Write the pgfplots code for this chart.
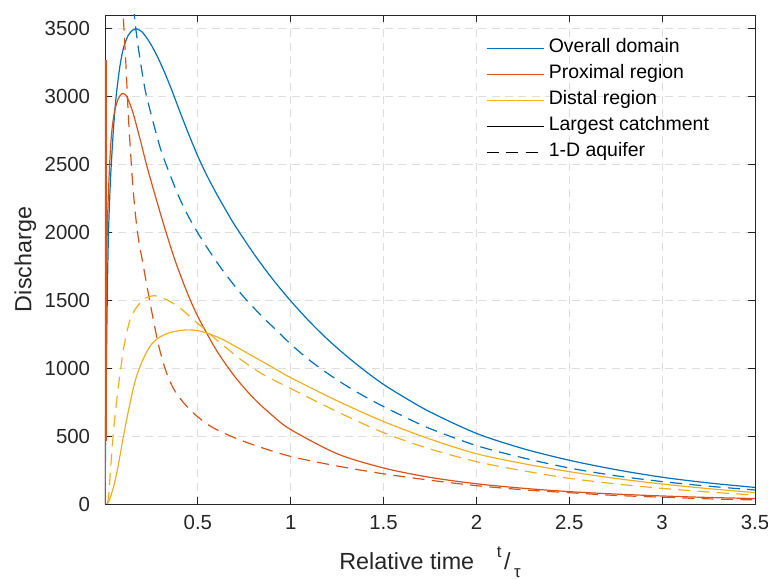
\documentclass[border=0pt]{standalone}
\usepackage{fontspec}
\setmainfont{Liberation Sans}
\usepackage{pgfplots}
\pgfplotsset{compat=1.18}
\definecolor{mblue}{rgb}{0,0.447,0.741}
\definecolor{morange}{rgb}{0.85,0.325,0.098}
\definecolor{myellow}{rgb}{0.929,0.694,0.125}
\definecolor{axgray}{rgb}{0.15,0.15,0.15}
\definecolor{gridgray}{rgb}{0.87,0.87,0.87}
\begin{document}
\begin{tikzpicture}
\begin{axis}[
  scale only axis, width=487.5pt, height=366.75pt,
  xmin=0, xmax=3.5, ymin=0, ymax=3600,
  xtick={0.5,1,1.5,2,2.5,3,3.5},
  ytick={0,500,1000,1500,2000,2500,3000,3500},
  /pgf/number format/1000 sep={},
  /pgf/number format/assume math mode=true,
  axis line style={axgray, line width=0.6pt},
  tick style={axgray, line width=0.6pt},
  major tick length=5pt,
  tick align=inside,
  grid=major,
  major grid style={gridgray, dash pattern=on 6pt off 4pt, line width=0.6pt},
  tick label style={font=\fontsize{15.3}{17}\selectfont, text=axgray},
  yticklabel style={inner sep=0pt, anchor=east, xshift=-11pt},
  xticklabel style={inner sep=0pt, anchor=base, yshift=-19pt},
  xlabel={Relative time\hspace{17pt}\raisebox{9pt}{\fontsize{12.5}{12}\selectfont t}\hspace{2pt}/\hspace{2.5pt}\raisebox{-6pt}{\fontsize{12.5}{12}\selectfont τ}},
  ylabel={Discharge},
  xlabel style={at={(axis description cs:0.5,-0.133)}, anchor=base, font=\fontsize{17.5}{19}\selectfont, text=axgray, inner sep=0pt},
  ylabel style={at={(axis description cs:-0.1131,0.5)}, anchor=base, font=\fontsize{17.5}{19}\selectfont, text=axgray, inner sep=0pt},
  legend style={draw=none, fill=none, at={(0.580,0.964)}, anchor=north west,
    font=\fontsize{14.6}{16}\selectfont, nodes={inner sep=0pt, text height=13pt, text depth=6.5pt},
    column sep=3pt},
  legend cell align=left,
  legend image code/.code={\draw[#1, line width=0.9pt] (0pt,0pt) -- (43pt,0pt);},
  every axis plot/.append style={line width=0.9pt},
]
\coordinate (bl) at (rel axis cs:0,0);
\coordinate (tr) at (rel axis cs:1,1);

% Overall domain (solid)
\addplot[mblue, smooth] coordinates {
(0,0) (0.005,700) (0.01,1300) (0.015,1750) (0.02,2050) (0.03,2400) (0.045,2750) (0.06,3000) (0.08,3220) (0.1,3360) (0.125,3450) (0.15,3490) (0.17,3497) (0.2,3475) (0.24,3400) (0.28,3300) (0.32,3180) (0.36,3045) (0.4,2900) (0.45,2725) (0.5,2560) (0.55,2415) (0.6,2285) (0.65,2165) (0.7,2050) (0.8,1845) (0.9,1660) (1.0,1495) (1.1,1345) (1.2,1210) (1.3,1090) (1.4,980) (1.5,880) (1.6,795) (1.75,678) (2.0,520) (2.25,408) (2.5,322) (2.75,253) (3.0,197) (3.25,155) (3.5,122)
};
\addlegendentry{Overall domain}

% Proximal region (solid)
\addplot[morange, smooth] coordinates {
(0,0) (0.004,800) (0.009,1750) (0.015,2150) (0.025,2500) (0.035,2720) (0.05,2880) (0.07,2980) (0.09,3020) (0.1,3021) (0.115,3005) (0.13,2960) (0.153,2870) (0.19,2680) (0.225,2490) (0.26,2320) (0.3,2131) (0.33,1995) (0.378,1790) (0.44,1565) (0.5,1380) (0.6,1132) (0.7,936) (0.8,779) (0.9,653) (1.0,548) (1.25,370) (1.5,265) (1.75,196) (2.0,149) (2.25,116) (2.5,91) (2.75,73) (3.0,59) (3.25,48) (3.5,40)
};
\addlegendentry{Proximal region}

% Distal region (solid)
\addplot[myellow, smooth] coordinates {
(0.005,0) (0.015,5) (0.027,42) (0.045,120) (0.063,226) (0.08,350) (0.099,496) (0.117,625) (0.135,742) (0.152,850) (0.17,940) (0.2,1050) (0.225,1120) (0.25,1175) (0.28,1215) (0.31,1240) (0.35,1262) (0.4,1276) (0.45,1282) (0.5,1276) (0.55,1258) (0.6,1232) (0.65,1200) (0.7,1162) (0.8,1085) (0.9,1008) (1.0,930) (1.25,760) (1.5,607) (1.75,478) (2.0,370) (2.25,298) (2.5,238) (2.75,188) (3.0,147) (3.25,113) (3.5,84)
};
\addlegendentry{Distal region}

\addlegendimage{black}
\addlegendentry{Largest catchment}
\addlegendimage{black, dash pattern=on 9pt off 5.5pt}
\addlegendentry{1-D aquifer}

% vertical segment at t = 0
\addplot[morange, line width=2.4pt, forget plot] coordinates {(0,464) (0,3272)};

% 1-D aquifer (dashed)
\addplot[mblue, smooth, dash pattern=on 9pt off 5.5pt, forget plot] coordinates {
(0.148,3800) (0.158,3600) (0.171,3444) (0.189,3272) (0.216,3050) (0.25,2860) (0.3,2610) (0.35,2425) (0.4,2255) (0.45,2115) (0.5,1995) (0.58,1825) (0.65,1690) (0.75,1520) (0.85,1375) (0.917,1287) (1.0,1177) (1.1,1060) (1.2,960) (1.3,870) (1.4,790) (1.5,717) (1.6,650) (1.75,555) (2.0,430) (2.25,340) (2.5,265) (2.75,208) (3.0,165) (3.25,131) (3.5,103)
};
\addplot[morange, smooth, dash pattern=on 9pt off 5.5pt, forget plot] coordinates {
(0.094,4000) (0.099,3600) (0.106,3400) (0.113,3223) (0.126,2854) (0.139,2560) (0.153,2290) (0.175,2000) (0.207,1749) (0.243,1479) (0.288,1172) (0.329,975) (0.378,828) (0.458,693) (0.557,582) (0.66,510) (0.8,435) (1.0,350) (1.25,280) (1.5,222) (1.75,175) (2.0,135) (2.25,105) (2.5,83) (2.75,63) (3.0,50) (3.25,38) (3.5,30)
};
\addplot[myellow, smooth, dash pattern=on 9pt off 5.5pt, forget plot] coordinates {
(0.012,0) (0.02,60) (0.027,201) (0.035,350) (0.045,520) (0.058,700) (0.072,864) (0.085,1000) (0.099,1135) (0.117,1260) (0.135,1356) (0.157,1420) (0.18,1466) (0.216,1515) (0.27,1533) (0.333,1503) (0.405,1442) (0.477,1356) (0.53,1294) (0.6,1210) (0.73,1065) (0.85,955) (1.0,850) (1.25,680) (1.5,525) (1.75,405) (2.0,312) (2.25,245) (2.5,189) (2.75,148) (3.0,115) (3.25,88) (3.5,66)
};
\end{axis}
\pgfresetboundingbox
\path ([xshift=-78.75pt,yshift=-56.25pt]bl) rectangle ([xshift=9.75pt,yshift=11.25pt]tr);
\end{tikzpicture}
\end{document}
